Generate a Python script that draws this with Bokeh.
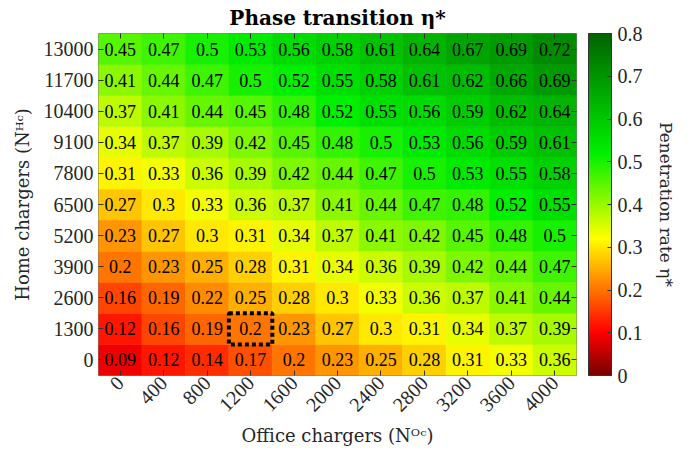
import math
from bokeh.plotting import figure
from bokeh.models import (ColumnDataSource, LinearColorMapper, ColorBar, FixedTicker,
                          CategoricalAxis)
from bokeh.embed import file_html
from bokeh.resources import INLINE
from bokeh.core.properties import value

office = ["0", "400", "800", "1200", "1600", "2000", "2400", "2800", "3200", "3600", "4000"]
home = ["0", "1300", "2600", "3900", "5200", "6500", "7800", "9100", "10400", "11700", "13000"]

# one row per home-charger level, bottom (0) to top (13000)
eta_0 = [0.09, 0.12, 0.14, 0.17, 0.2, 0.23, 0.25, 0.28, 0.31, 0.33, 0.36]
eta_1300 = [0.12, 0.16, 0.19, 0.2, 0.23, 0.27, 0.3, 0.31, 0.34, 0.37, 0.39]
eta_2600 = [0.16, 0.19, 0.22, 0.25, 0.28, 0.3, 0.33, 0.36, 0.37, 0.41, 0.44]
eta_3900 = [0.2, 0.23, 0.25, 0.28, 0.31, 0.34, 0.36, 0.39, 0.42, 0.44, 0.47]
eta_5200 = [0.23, 0.27, 0.3, 0.31, 0.34, 0.37, 0.41, 0.42, 0.45, 0.48, 0.5]
eta_6500 = [0.27, 0.3, 0.33, 0.36, 0.37, 0.41, 0.44, 0.47, 0.48, 0.52, 0.55]
eta_7800 = [0.31, 0.33, 0.36, 0.39, 0.42, 0.44, 0.47, 0.5, 0.53, 0.55, 0.58]
eta_9100 = [0.34, 0.37, 0.39, 0.42, 0.45, 0.48, 0.5, 0.53, 0.56, 0.59, 0.61]
eta_10400 = [0.37, 0.41, 0.44, 0.45, 0.48, 0.52, 0.55, 0.56, 0.59, 0.62, 0.64]
eta_11700 = [0.41, 0.44, 0.47, 0.5, 0.52, 0.55, 0.58, 0.61, 0.62, 0.66, 0.69]
eta_13000 = [0.45, 0.47, 0.5, 0.53, 0.56, 0.58, 0.61, 0.64, 0.67, 0.69, 0.72]
eta_rows = [eta_0, eta_1300, eta_2600, eta_3900, eta_5200, eta_6500,
            eta_7800, eta_9100, eta_10400, eta_11700, eta_13000]

highlight_office = "1200"
highlight_home = "1300"

cbar_ticks = [0, 0.1, 0.2, 0.3, 0.4, 0.5, 0.6, 0.7, 0.8]
cbar_low, cbar_high = 0.0, 0.8
cbar_title = "Penetration rate η*"

# colormap anchors (fraction of range, rgb)
anchors = [(0.0, (120, 0, 0)), (0.125, (255, 0, 0)), (0.40, (255, 255, 0)),
           (0.65, (0, 240, 0)), (1.0, (0, 100, 0))]


def build_palette(n=256):
    pal = []
    for i in range(n):
        t = i / (n - 1)
        for (t0, c0), (t1, c1) in zip(anchors[:-1], anchors[1:]):
            if t0 <= t <= t1:
                f = (t - t0) / (t1 - t0)
                rgb = [round(a + (b - a) * f) for a, b in zip(c0, c1)]
                pal.append("#%02x%02x%02x" % tuple(rgb))
                break
    return pal


mapper = LinearColorMapper(palette=build_palette(), low=cbar_low, high=cbar_high)

xs, ys, vs, labels = [], [], [], []
for h, row in zip(home, eta_rows):
    for o, v in zip(office, row):
        xs.append(o)
        ys.append(h)
        vs.append(v)
        labels.append(f"{v:g}")
src = ColumnDataSource(dict(x=xs, y=ys, v=vs, label=labels))

FONT = "Liberation Serif"
LFONT = "DejaVu Serif"
TXT = "#262626"

p = figure(x_range=office, y_range=home, width=678, height=448,
           output_backend="svg", toolbar_location=None,
           title="Phase transition η*",
           min_border_left=98, min_border_right=93, min_border_top=32, min_border_bottom=68)

p.rect(x="x", y="y", width=1, height=1, source=src,
       fill_color={"field": "v", "transform": mapper},
       line_color={"field": "v", "transform": mapper}, line_width=0.6)
p.text(x="x", y="y", text="label", source=src, text_align="center", text_baseline="middle",
       text_font=value(FONT), text_font_size="18px", text_color="black")
p.rect(x=[highlight_office], y=[highlight_home], width=1, height=1, fill_color=None,
       line_color="black", line_width=4, line_dash="4 3")

p.grid.visible = False
p.outline_line_color = "#7f7f7f"
p.outline_line_width = 1

p.title.align = "center"
p.title.text_font = LFONT
p.title.text_font_size = "20px"
p.title.text_font_style = "bold"
p.title.text_color = "black"
p.title.standoff = 7

for ax in (p.xaxis[0], p.yaxis[0]):
    ax.axis_line_color = None
    ax.major_tick_in = 5
    ax.major_tick_out = 0
    ax.major_tick_line_color = "#333333"
    ax.major_label_text_font = FONT
    ax.major_label_text_font_size = "20px"
    ax.major_label_text_color = TXT
    ax.axis_label_text_font = LFONT
    ax.axis_label_text_font_size = "18px"
    ax.axis_label_text_font_style = "normal"
    ax.axis_label_text_color = TXT

p.xaxis.major_label_orientation = math.pi / 4
p.xaxis.axis_label = "Office chargers (Nᴼᶜ)"
p.yaxis.axis_label = "Home chargers (Nᴴᶜ)"
p.xaxis.major_label_standoff = 4
p.yaxis.major_label_standoff = 5
p.xaxis.axis_label_standoff = 4
p.yaxis.axis_label_standoff = 8

blank_x = {f: "" for f in office}
blank_y = {f: "" for f in home}

top = CategoricalAxis(axis_line_color=None, major_tick_in=5, major_tick_out=0,
                      major_tick_line_color="#333333", major_label_overrides=blank_x,
                      major_label_text_color=None, major_label_standoff=0)
p.add_layout(top, "above")
right = CategoricalAxis(axis_line_color=None, major_tick_in=5, major_tick_out=0,
                        major_tick_line_color="#333333", major_label_overrides=blank_y,
                        major_label_text_color=None, major_label_standoff=0)
p.add_layout(right, "right")
spacer = CategoricalAxis(axis_line_color=None, major_tick_in=0, major_tick_out=12,
                         major_tick_line_color=None, major_label_overrides=blank_y,
                         major_label_text_color=None, major_label_standoff=0)
p.add_layout(spacer, "right")

cb = ColorBar(color_mapper=mapper, ticker=FixedTicker(ticks=cbar_ticks), width=23,
              padding=0, margin=0, bar_line_color="#333333",
              major_tick_in=4, major_tick_out=0, major_tick_line_color="#333333",
              minor_tick_line_color=None,
              major_label_text_font=FONT, major_label_text_font_size="20px",
              major_label_text_color=TXT,
              major_label_overrides={0: "0"}, label_standoff=6,
              background_fill_alpha=0)
p.add_layout(cb, "right")

# colour-bar title, centred beside the bar
lab = CategoricalAxis(axis_line_color=None, major_tick_line_color=None,
                      minor_tick_line_color=None, major_label_overrides=blank_y,
                      major_label_text_color=None, major_label_standoff=0,
                      axis_label=cbar_title, axis_label_text_font=LFONT,
                      axis_label_text_font_size="17px", axis_label_text_font_style="normal",
                      axis_label_text_color=TXT, axis_label_standoff=4)
p.add_layout(lab, "right")

open("out.html", "w").write(file_html(p, INLINE))
